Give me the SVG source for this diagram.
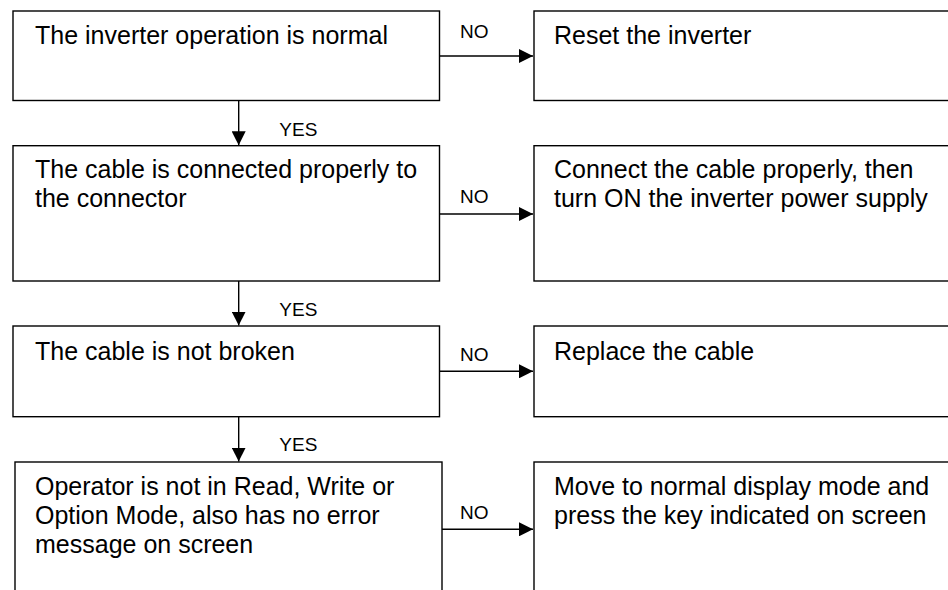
<svg xmlns="http://www.w3.org/2000/svg" width="948" height="590" viewBox="0 0 948 590">
<defs>
<style>
.box{fill:#fff;stroke:#000;stroke-width:1.4}
.t{font-family:"Liberation Sans",Arial,sans-serif;font-size:25px;fill:#000}
.l{font-family:"Liberation Sans",Arial,sans-serif;font-size:19px;fill:#000}
.c{stroke:#000;stroke-width:1.4;fill:none}
</style>
<marker id="ah" viewBox="0 0 14 14" refX="14" refY="7" markerWidth="14" markerHeight="14" markerUnits="userSpaceOnUse" orient="auto">
<path d="M0,0 L14,7 L0,14 Z" fill="#000"/>
</marker>
</defs>
<rect width="948" height="590" fill="#fff"/>
<g id="n1"><rect class="box" x="13" y="11" width="426.5" height="89.5"/><text class="t" x="35" y="44">The inverter operation is normal</text></g>
<g id="r1"><rect class="box" x="534" y="11" width="430" height="89.5"/><text class="t" x="554" y="44">Reset the inverter</text></g>
<g id="n2"><rect class="box" x="13" y="145.7" width="426.5" height="135.3"/><text class="t" x="35" y="178">The cable is connected properly to</text><text class="t" x="35" y="207">the connector</text></g>
<g id="r2"><rect class="box" x="534" y="145.7" width="430" height="135.3"/><text class="t" x="554" y="178">Connect the cable properly, then</text><text class="t" x="554" y="207">turn ON the inverter power supply</text></g>
<g id="n3"><rect class="box" x="13" y="326" width="426.5" height="90.7"/><text class="t" x="35" y="359.5">The cable is not broken</text></g>
<g id="r3"><rect class="box" x="534" y="326" width="430" height="90.7"/><text class="t" x="554" y="359.5">Replace the cable</text></g>
<g id="n4"><rect class="box" x="15" y="462" width="427" height="140"/><text class="t" x="35" y="494.5">Operator is not in Read, Write or</text><text class="t" x="35" y="523.5">Option Mode, also has no error</text><text class="t" x="35" y="552.5">message on screen</text></g>
<g id="r4"><rect class="box" x="534" y="462" width="430" height="140"/><text class="t" x="554" y="494.5">Move to normal display mode and</text><text class="t" x="554" y="523.5">press the key indicated on screen</text></g>
<g id="connectors">
<path class="c" d="M439.5,56 H533" marker-end="url(#ah)"/>
<path class="c" d="M439.5,214 H533" marker-end="url(#ah)"/>
<path class="c" d="M439.5,371.3 H533" marker-end="url(#ah)"/>
<path class="c" d="M442,529.3 H533" marker-end="url(#ah)"/>
<path class="c" d="M238.7,100.5 V145.3" marker-end="url(#ah)"/>
<path class="c" d="M238.7,281 V325.6" marker-end="url(#ah)"/>
<path class="c" d="M238.7,416.7 V461.6" marker-end="url(#ah)"/>
<text class="l" x="460" y="38">NO</text>
<text class="l" x="460" y="202.7">NO</text>
<text class="l" x="460" y="361">NO</text>
<text class="l" x="460" y="519.3">NO</text>
<text class="l" x="279.3" y="136">YES</text>
<text class="l" x="279.3" y="316">YES</text>
<text class="l" x="279.3" y="451">YES</text>
</g>
</svg>
